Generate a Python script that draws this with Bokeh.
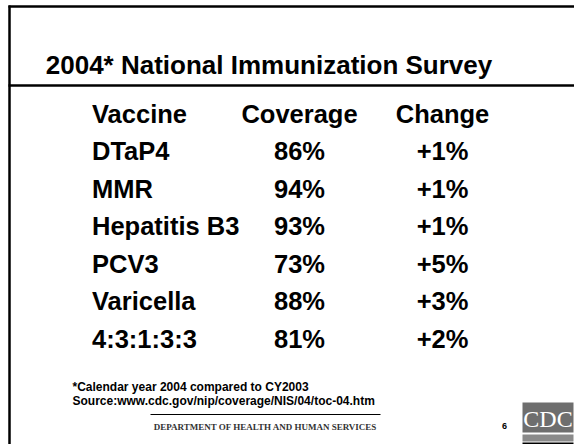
from bokeh.plotting import figure
from bokeh.models import Range1d, ColumnDataSource
from bokeh.core.properties import value
from bokeh.embed import file_html
from bokeh.resources import INLINE

# ---- data ----
title = "2004* National Immunization Survey"
headers = ["Vaccine", "Coverage", "Change"]
vaccines = ["DTaP4", "MMR", "Hepatitis B3", "PCV3", "Varicella", "4:3:1:3:3"]
coverage = [86, 94, 93, 73, 88, 81]
change = [1, 1, 1, 5, 3, 2]
footnotes = ["*Calendar year 2004 compared to CY2003",
             " Source:www.cdc.gov/nip/coverage/NIS/04/toc-04.htm"]
department = "DEPARTMENT OF HEALTH AND HUMAN SERVICES"
page_no = "6"

W, H = 574, 444
p = figure(width=W, height=H, output_backend="svg", toolbar_location=None,
           x_range=Range1d(0, W), y_range=Range1d(H, 0),
           min_border=0, outline_line_color=None, background_fill_color="white",
           border_fill_color="white")
p.axis.visible = False
p.grid.visible = False

FONT = value("Liberation Sans")

# frame lines
p.segment(x0=[9, 8, 8], y0=[5, 6, 85], x1=[9, 574, 574], y1=[444, 6, 85],
          line_color="black", line_width=2.5)

# title
p.text(x=[268.5], y=[64], text=[title], text_font=FONT, text_font_style="bold",
       text_font_size="26px", text_align="center", text_baseline="alphabetic", text_color="black")

# table
header_y = 113
row_step = 37.5
col_x = [91.5, 299, 442]
col_align = ["left", "center", "center"]
FS = "25.5px"
for hx, ha, ht in zip(col_x, col_align, headers):
    p.text(x=[hx], y=[header_y], text=[ht], text_font=FONT, text_font_style="bold",
           text_font_size=FS, text_align=ha, text_baseline="alphabetic", text_color="black")

rows_y = [header_y + (i + 1) * row_step for i in range(len(vaccines))]
src = ColumnDataSource(dict(
    y=rows_y,
    vac=vaccines,
    cov=[f"{c}%" for c in coverage],
    chg=[f"+{d}%" for d in change],
))
for col, hx, ha in zip(["vac", "cov", "chg"], col_x, col_align):
    p.text(x=hx, y="y", text=col, source=src, text_font=FONT, text_font_style="bold",
           text_font_size=FS, text_align=ha, text_baseline="alphabetic", text_color="black")

# footnotes
p.text(x=[72, 72], y=[386, 400], text=footnotes, text_font=FONT, text_font_style="bold",
       text_font_size="12px", text_align="left", text_baseline="alphabetic", text_color="black")

# footer line and department
p.segment(x0=[150], y0=[414], x1=[380], y1=[414], line_color="black", line_width=1)
p.text(x=[265], y=[426], text=[department], text_font=value("Liberation Serif"),
       text_font_style="bold", text_font_size="9px", text_align="center",
       text_baseline="alphabetic", text_color="#333333")
p.text(x=[504], y=[425], text=[page_no], text_font=FONT, text_font_style="bold",
       text_font_size="9px", text_align="center", text_baseline="alphabetic", text_color="black")

# CDC logo
p.quad(left=[522], right=[573], top=[402], bottom=[432], fill_color="#6e6e6e", line_color=None)
p.quad(left=[522], right=[573], top=[434], bottom=[441], fill_color="#8a8a8a", line_color=None)
p.quad(left=[522], right=[573], top=[442], bottom=[444], fill_color="black", line_color=None)
p.text(x=[547.5], y=[418], text=["CDC"], text_font=value("Liberation Serif"),
       text_font_size="24px", text_align="center", text_baseline="alphabetic", text_color="white")

open("out.html", "w").write(file_html(p, INLINE))
